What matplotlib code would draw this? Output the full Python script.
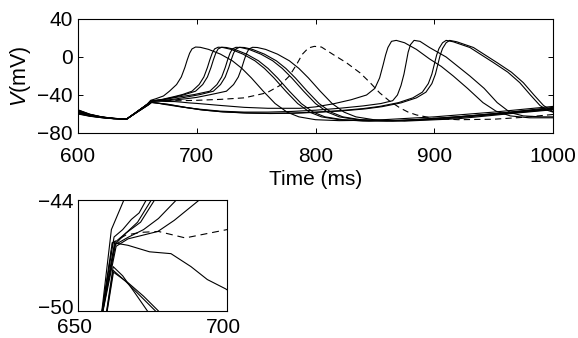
"""
Membrane voltage traces: main panel 600-1000 ms plus zoomed inset near the ramp end
"""

import matplotlib
matplotlib.use('Agg')
import matplotlib.pyplot as plt
from matplotlib.transforms import ScaledTranslation

# --- traces: time (ms) and voltage (mV) ---

# early spikes
s1_t = [600, 610, 620, 630, 641, 650, 658.0, 661.2, 665.4, 672, 677, 683, 687, 690, 692, 694, 696, 699, 703, 710,
        720, 730, 738, 746, 756, 766, 776, 786, 800, 820, 850, 900, 950, 1000]
s1_v = [-55.6, -60.2, -63.0, -64.6, -65.3, -57.2, -50.0, -45.6, -44.0, -41.0, -36.0, -29.0, -21.0, -11.0, -3.0, 4.0,
        8.5, 10.5, 10.2, 8.0, 3.0, -4.0, -12.0, -22.0, -36.0, -49.0, -58.0, -63.0, -66.0, -67.0, -66.5, -63.0, -58.0, -52.0]

s2_t = [600, 610, 620, 630, 641, 650, 658.1, 662.1, 665, 667.9, 670.5, 672.9, 680, 688, 696, 702, 706, 709, 711, 713,
        715, 718, 722, 729, 739, 749, 757, 765, 775, 785, 795, 805, 820, 840, 870, 920, 960, 1000]
s2_v = [-56.2, -60.6, -63.2, -64.6, -65.3, -57.3, -50.0, -46.0, -45.6, -45.05, -44.7, -44.0, -42.0, -39.5, -36.0, -29.0,
        -21.0, -11.0, -3.0, 4.0, 8.5, 10.3, 10.0, 8.0, 3.0, -4.0, -12.0, -22.0, -36.0, -49.0, -58.0, -63.0, -66.0, -67.3,
        -67.0, -63.0, -58.5, -53.0]

s3_t = [600, 610, 620, 630, 641, 650, 658.2, 662.3, 666, 670, 674.6, 682, 690, 699, 705, 709, 712, 714, 716, 718,
        721, 725, 732, 742, 752, 760, 768, 778, 788, 798, 808, 823, 845, 880, 930, 1000]
s3_v = [-56.8, -60.9, -63.3, -64.7, -65.3, -57.4, -50.0, -46.3, -45.8, -45.2, -44.0, -42.0, -39.5, -36.0, -29.0, -21.0,
        -11.0, -3.0, 4.0, 8.5, 10.3, 10.0, 8.0, 3.0, -4.0, -12.0, -22.0, -36.0, -49.0, -58.0, -63.0, -66.0, -67.5, -66.5,
        -62.0, -54.0]

s4_t = [600, 610, 620, 630, 641, 650, 658.3, 662.4, 666, 671, 675.7, 685, 698, 711, 717, 721, 724, 726, 728, 730,
        733, 737, 744, 754, 764, 772, 780, 790, 800, 810, 820, 835, 860, 900, 950, 1000]
s4_v = [-57.4, -61.2, -63.4, -64.7, -65.3, -57.5, -50.0, -46.4, -45.8, -45.2, -44.0, -42.0, -39.5, -36.0, -29.0, -21.0,
        -11.0, -3.0, 4.0, 8.5, 10.2, 10.0, 8.0, 3.0, -4.0, -12.0, -22.0, -36.0, -49.0, -58.0, -63.0, -66.0, -67.3, -65.0,
        -60.0, -54.5]

s5_t = [600, 610, 620, 630, 641, 650, 658.3, 662.6, 667, 672, 677, 683, 692, 703, 714, 720, 724, 727, 729, 731,
        733, 736, 740, 747, 757, 767, 775, 783, 793, 803, 813, 823, 838, 865, 910, 960, 1000]
s5_v = [-58.0, -61.5, -63.5, -64.8, -65.3, -57.5, -50.0, -46.4, -46.0, -45.6, -45.0, -44.0, -42.0, -39.5, -36.0, -29.0,
        -21.0, -11.0, -3.0, 4.0, 8.5, 10.2, 10.0, 8.0, 3.0, -4.0, -12.0, -22.0, -36.0, -49.0, -58.0, -63.0, -66.0, -67.5,
        -65.0, -59.5, -55.0]

s6_t = [600, 610, 620, 630, 641, 650, 658.4, 662.8, 666.8, 676.8, 682.3, 690.7, 700, 712, 725, 731, 735, 738, 740, 742,
        744, 747, 751, 758, 768, 778, 786, 794, 804, 814, 824, 834, 849, 875, 920, 965, 1000]
s6_v = [-58.6, -61.8, -63.6, -64.8, -65.3, -57.6, -50.0, -46.5, -46.1, -45.7, -45.1, -44.0, -42.5, -39.5, -36.0, -29.0,
        -21.0, -11.0, -3.0, 4.0, 8.5, 10.2, 10.0, 8.0, 3.0, -4.0, -12.0, -22.0, -36.0, -49.0, -58.0, -63.0, -66.0, -67.5,
        -65.0, -59.5, -55.5]

# late spikes
n1_t = [600, 610, 620, 630, 641, 650, 658.1, 661.5, 666.8, 674, 681.2, 687.9, 693.4, 699.5, 720, 740, 760, 787, 800, 815,
        830, 843, 850, 854, 857, 859, 861, 864, 868, 875, 885, 896, 906, 916, 928, 941, 952, 964, 980, 1000]
n1_v = [-55.9, -60.4, -63.1, -64.6, -65.3, -57.3, -50.0, -46.3, -46.45, -46.8, -46.9, -47.6, -48.3, -48.8, -51.0, -53.0,
        -54.0, -54.0, -52.5, -49.3, -45.0, -40.0, -33.0, -22.0, -8.0, 2.0, 10.0, 16.5, 17.5, 15.0, 8.0, -2.0, -10.0, -20.0,
        -33.0, -48.0, -57.0, -62.0, -64.0, -64.0]

l1_t = [600, 610, 620, 630, 641, 650, 659.6, 661.8, 665, 669, 673.3, 688, 703, 720, 740, 760, 780, 800, 820, 840,
        855, 865, 869, 872, 874.5, 876.5, 878, 880, 883, 888, 896, 910, 920, 930, 942, 953, 964, 975, 990, 1000]
l1_v = [-59.2, -62.0, -63.7, -64.9, -65.3, -57.9, -50.0, -47.6, -48.1, -49.0, -50.0, -52.8, -55.0, -57.0, -58.0, -58.0,
        -57.3, -56.0, -54.0, -51.5, -49.0, -46.0, -40.0, -30.0, -18.0, -5.0, 5.0, 13.0, 17.5, 16.5, 10.0, 0.0, -10.0,
        -20.0, -33.0, -48.0, -58.5, -62.0, -63.0, -63.0]

l2_t = [600, 610, 620, 630, 641, 650, 659.7, 661.8, 666, 671, 676, 690, 703, 720, 740, 760, 780, 800, 820, 840,
        854, 870, 882, 890, 895, 898, 900, 902, 904, 907, 910, 916, 930, 950, 962, 972, 981, 989, 995, 1000]
l2_v = [-59.6, -62.2, -63.8, -64.9, -65.3, -57.9, -50.0, -47.8, -48.4, -49.2, -50.0, -53.0, -55.5, -57.5, -58.8, -59.3,
        -59.0, -58.0, -56.5, -54.3, -52.0, -48.0, -43.0, -37.0, -28.0, -18.0, -8.0, 2.0, 9.0, 15.0, 17.5, 16.0, 10.0,
        -6.0, -16.0, -27.0, -40.0, -51.0, -56.0, -58.0]

l3_t = [600, 610, 620, 630, 641, 650, 659.8, 661.9, 667, 672, 677, 692, 705, 722, 742, 762, 782, 802, 822, 842,
        856, 872, 885, 893, 898, 901, 903, 905, 907, 910, 913, 919, 933, 953, 965, 975, 984, 992, 998, 1000]
l3_v = [-60.0, -62.4, -63.9, -65.0, -65.3, -57.9, -50.0, -47.9, -48.5, -49.2, -50.0, -53.3, -55.8, -57.8, -59.0, -59.5,
        -59.2, -58.2, -56.8, -54.6, -52.3, -48.3, -43.0, -37.0, -28.0, -18.0, -8.0, 2.0, 9.0, 15.0, 17.5, 16.0, 10.0,
        -6.0, -16.0, -27.0, -40.0, -51.0, -56.0, -57.5]

# dashed trace
d_t = [600, 610, 620, 630, 641, 650, 658.2, 661.6, 666, 671, 677, 686, 700, 720, 740, 759, 770, 778, 784, 789,
       794, 799, 805, 815, 826, 837.5, 846, 854, 862, 871, 878, 885, 899, 920, 950, 975, 1000]
d_v = [-57.0, -60.8, -63.2, -64.6, -65.3, -57.3, -50.0, -46.3, -45.9, -45.75, -45.7, -46.05, -45.6, -44.6, -43.0, -37.7,
       -30.0, -20.0, -8.0, 3.0, 9.5, 11.2, 10.5, 2.5, -6.0, -16.7, -27.0, -37.7, -46.0, -53.5, -58.0, -61.0, -64.5,
       -66.0, -65.5, -63.5, -60.5]

main_xticks = [600, 700, 800, 900, 1000]
main_yticks = [-80, -40, 0, 40]
inset_xticks = [650, 700]
inset_yticks = [-50, -44]

plt.rcParams['font.family'] = ['Liberation Sans', 'DejaVu Sans']
plt.rcParams['mathtext.fontset'] = 'custom'
plt.rcParams['mathtext.it'] = 'Liberation Sans:italic'
plt.rcParams['mathtext.rm'] = 'Liberation Sans'
plt.rcParams['lines.scale_dashes'] = False
plt.rcParams['axes.linewidth'] = 0.8

solid = [(s1_t, s1_v), (s2_t, s2_v), (s3_t, s3_v), (s4_t, s4_v), (s5_t, s5_v), (s6_t, s6_v),
         (n1_t, n1_v), (l1_t, l1_v), (l2_t, l2_v), (l3_t, l3_v)]

fig = plt.figure(figsize=(5.78, 3.38), dpi=100)

# main panel
ax = fig.add_axes([78 / 578, 1 - 133 / 338, 475 / 578, 114 / 338])
for t, v in solid:
    ax.plot(t, v, color='black', lw=0.8)
ax.plot(d_t, d_v, color='black', lw=0.8, ls=(0, (4.5, 3)))
ax.set_xlim(600, 1000)
ax.set_ylim(-80, 40)
ax.set_xticks(main_xticks)
ax.set_yticks(main_yticks)
ax.tick_params(direction='in', top=True, right=True, length=3.5, width=0.7, labelsize=15)
ax.tick_params(axis='x', pad=10)
ax.tick_params(axis='y', pad=4)
ax.set_xlabel('Time (ms)', fontsize=15, labelpad=3)
ax.set_ylabel('$V$(mV)', fontsize=15.5, labelpad=3)

# inset zoom
ax2 = fig.add_axes([78 / 578, 1 - 311 / 338, 149 / 578, 111 / 338])
for t, v in solid:
    ax2.plot(t, v, color='black', lw=0.8)
ax2.plot(d_t, d_v, color='black', lw=0.8, ls=(0, (5, 3.5)))
ax2.set_xlim(650, 700)
ax2.set_ylim(-50, -44)
ax2.set_xticks(inset_xticks)
ax2.set_yticks(inset_yticks)
ax2.tick_params(direction='in', length=0, labelsize=15)
ax2.tick_params(axis='x', pad=5)
ax2.tick_params(axis='y', pad=3)
# reference puts the inset x labels a little left of their ticks
shift_x = ScaledTranslation(-4 / 100, 0, fig.dpi_scale_trans)
for lab in ax2.get_xticklabels():
    lab.set_transform(lab.get_transform() + shift_x)
# lift the bottom y label a bit so it clears the 650 label
shift_y = ScaledTranslation(0, 5 / 100, fig.dpi_scale_trans)
ylabs = ax2.get_yticklabels()
ylabs[0].set_transform(ylabs[0].get_transform() + shift_y)

fig.savefig('out.png', dpi=100)
